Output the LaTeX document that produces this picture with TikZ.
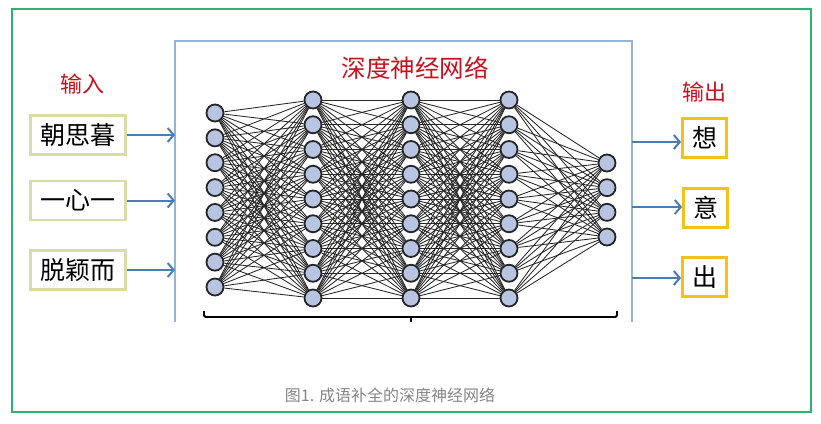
\documentclass[tikz,border=0pt]{standalone}
\usepackage{fontspec}
\setmainfont{Noto Sans CJK SC}
\newfontfamily\cjk{Noto Sans CJK SC}
\usetikzlibrary{arrows.meta}
\definecolor{framegreen}{HTML}{2DB36E}
\definecolor{frameblue}{HTML}{95B3D7}
\definecolor{arrowblue}{HTML}{4A7DB8}
\definecolor{titlered}{HTML}{C8101E}
\definecolor{inborder}{HTML}{D9DCA8}
\definecolor{outborder}{HTML}{F2C21B}
\definecolor{neuronfill}{HTML}{B7C5E2}
\definecolor{capgray}{HTML}{858585}
\tikzset{
  inbox/.style={draw=inborder, line width=2.4pt, minimum width=95pt, minimum height=39pt, inner sep=0pt, font=\cjk\fontsize{25}{25}\selectfont},
  outbox/.style={draw=outborder, line width=2.8pt, minimum width=44pt, minimum height=39pt, inner sep=0pt, font=\cjk\fontsize{25}{25}\selectfont},
  redlabel/.style={text=titlered, inner sep=0pt, font=\cjk\fontsize{22}{22}\selectfont},
  neuron/.style={circle, draw=black!85, line width=1.8pt, fill=neuronfill, minimum size=17pt, inner sep=0pt},
  conn/.style={draw=black!85, line width=0.85pt},
  flow/.style={draw=arrowblue, line width=2pt, -{Straight Barb[length=6pt,width=14pt,line width=2pt]}},
}
\begin{document}
\begin{tikzpicture}[x=1pt,y=-1pt]
\useasboundingbox (0,0) rectangle (821,423);
% outer green frame
\draw[framegreen, line width=2.2pt] (12,9) rectangle (811,412);
% blue frame (open at bottom)
\draw[frameblue, line width=2.2pt] (175,322) -- (175,41) -- (632,41) -- (632,322);
% title
\node[redlabel, font=\cjk\fontsize{24.5}{24.5}\selectfont] (title) at (415,68) {深度神经网络};
% labels
\node[redlabel] (inlabel) at (82,84) {输入};
\node[redlabel] (outlabel) at (704,92) {输出};
% input boxes
\node[inbox] (in1) at (78,135) {朝思暮};
\node[inbox] (in2) at (78,200.5) {一心一};
\node[inbox] (in3) at (78,270) {脱颖而};
\coordinate (ia1) at (175,135);
\coordinate (ia2) at (175,200.5);
\coordinate (ia3) at (175,270);
\draw[flow] (in1.east) -- (ia1);
\draw[flow] (in2.east) -- (ia2);
\draw[flow] (in3.east) -- (ia3);
% output boxes
\node[outbox] (out1) at (704.5,138) {想};
\node[outbox] (out2) at (705.5,208) {意};
\node[outbox] (out3) at (704.5,277) {出};
\coordinate (oa1) at (632,142);
\coordinate (oa2) at (632,207);
\coordinate (oa3) at (632,278);
\draw[flow] (oa1) -- (oa1 -| out1.west);
\draw[flow] (oa2) -- (oa2 -| out2.west);
\draw[flow] (oa3) -- (oa3 -| out3.west);
% neurons
\foreach \i in {0,...,7} \node[neuron] (a\i) at (215,113+24.86*\i) {};
\foreach \i in {0,...,8} \node[neuron] (b\i) at (313,100+24.75*\i) {};
\foreach \i in {0,...,8} \node[neuron] (c\i) at (411,100+24.75*\i) {};
\foreach \i in {0,...,8} \node[neuron] (d\i) at (509,100+24.75*\i) {};
\foreach \i in {0,...,3} \node[neuron] (e\i) at (607,163+24.67*\i) {};
% connections
\foreach \i in {0,...,7} \foreach \j in {0,...,8} \draw[conn] (a\i) -- (b\j);
\foreach \i in {0,...,8} \foreach \j in {0,...,8} \draw[conn] (b\i) -- (c\j);
\foreach \i in {0,...,8} \foreach \j in {0,...,8} \draw[conn] (c\i) -- (d\j);
\foreach \i in {0,...,8} \foreach \j in {0,...,3} \draw[conn] (d\i) -- (e\j);
% bracket
\coordinate (brl) at (204,311);
\coordinate (brr) at (617,311);
\coordinate (brm) at (411,317);
\draw[black, line width=1.8pt, rounded corners=1.5pt] (brl) -- (204,317) -- (617,317) -- (brr);
\draw[black, line width=1.8pt] (brm) -- ++(0,5);
% caption
\node[text=capgray, inner sep=0pt, font=\cjk\fontsize{16}{16}\selectfont] (caption) at (390,395) {图1. 成语补全的深度神经网络};
\end{tikzpicture}
\end{document}
